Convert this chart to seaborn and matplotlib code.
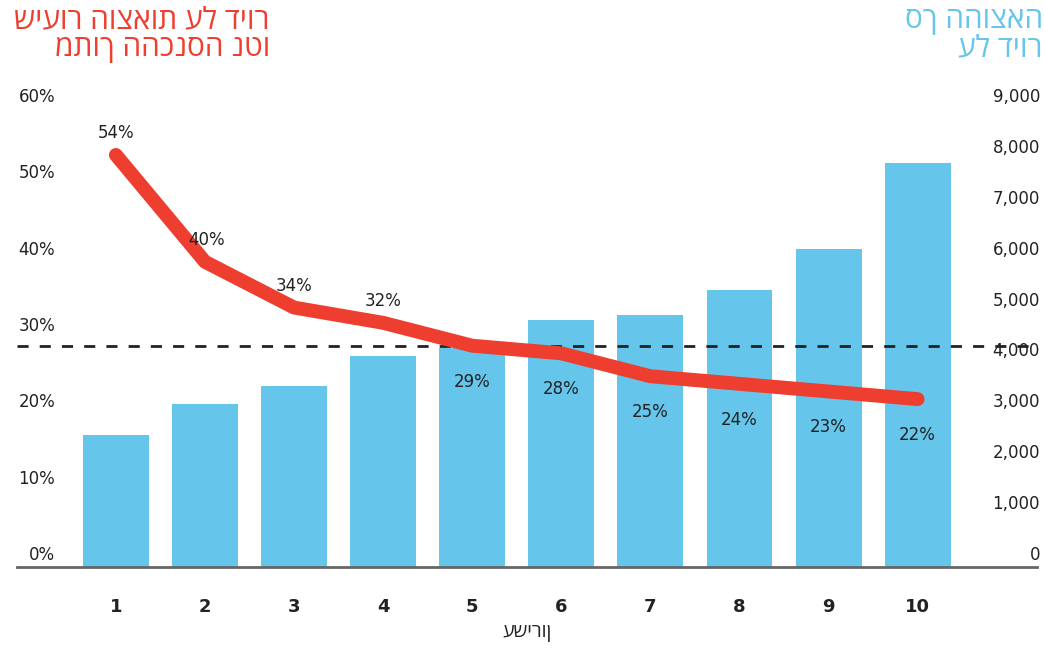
import numpy as np
import matplotlib
matplotlib.use("Agg")
import matplotlib.pyplot as plt
import matplotlib.transforms as mtransforms
import seaborn as sns

# data
deciles = ["1", "2", "3", "4", "5", "6", "7", "8", "9", "10"]
housing_spend = [2600, 3200, 3550, 4150, 4300, 4850, 4950, 5450, 6250, 7950]
housing_share = [54, 40, 34, 32, 29, 28, 25, 24, 23, 22]
average_share = 29
pct_ticks = [0, 10, 20, 30, 40, 50, 60]
spend_ticks = [0, 1000, 2000, 3000, 4000, 5000, 6000, 7000, 8000, 9000]

left_title = "שיעור הוצאות על דיור\nמתוך ההכנסה נטו"
right_title = "סך ההוצאה\nעל דיור"
x_title = "עשירון"

RED = "#EE3E2F"
BLUE = "#65C5EA"
DARK = "#222222"
HEB_FONT = ["Open Sans", "DejaVu Sans"]

sns.set_style("white")
plt.rcParams["font.family"] = ["DejaVu Sans"]

fig = plt.figure(figsize=(10.45, 6.48), dpi=100)
ax = fig.add_axes([17 / 1045, 81 / 648, 1020 / 1045, 467 / 648])
ax2 = ax.twinx()

# bars: spending (right scale)
sns.barplot(x=deciles, y=housing_spend, ax=ax, color=BLUE, width=0.74,
            saturation=1, edgecolor="none")
top_pct = 61.2
ax.set_ylim(0, top_pct * 150)
ax2.set_ylim(0, top_pct)

# line: share of income (left scale)
pos = np.arange(len(deciles))
ax2.axhline(average_share, color=DARK, lw=2, ls=(0, (4, 4)), zorder=2)
sns.lineplot(x=pos, y=housing_share, ax=ax2, color=RED, lw=10,
             solid_capstyle="round", solid_joinstyle="round", zorder=3)

for i, v in enumerate(housing_share):
    above = i < 4
    ax2.annotate(f"{v}%", (pos[i], v), textcoords="offset pixels",
                 xytext=(2 if i == 1 else 0, 22 if above else -36),
                 ha="center", va="center", fontsize=12, color=DARK, zorder=4)

ax.set_xlim(-1.11, 10.34)

# tick labels drawn inside the axes, sitting just above their values
for ax_ in (ax, ax2):
    ax_.set_yticks([])
    for s in ["top", "left", "right"]:
        ax_.spines[s].set_visible(False)
ax2.spines["bottom"].set_visible(False)
ax.spines["bottom"].set_color("#666666")
ax.spines["bottom"].set_linewidth(2)

tl = mtransforms.blended_transform_factory(ax.transAxes, ax2.transData)
for t in pct_ticks:
    ax2.text(38 / 1020, t + 0.4, f"{t}%", transform=tl, ha="right", va="bottom",
             fontsize=12, color=DARK)
tr = mtransforms.blended_transform_factory(ax.transAxes, ax.transData)
for t in spend_ticks:
    ax.text(1 + 3 / 1020, t + 60, f"{t:,}", transform=tr, ha="right", va="bottom",
            fontsize=12, color=DARK, clip_on=False)

ax.tick_params(axis="x", length=0, pad=22)
for lab in ax.get_xticklabels():
    lab.set_fontweight("bold")
    lab.set_fontsize(13)
    lab.set_color(DARK)
ax.set_xlabel(x_title, fontsize=14, color=DARK, labelpad=6, family=HEB_FONT)
ax.set_ylabel("")
ax2.set_ylabel("")

fig.text(270 / 1045, 1 - 6 / 648, left_title, ha="right", va="top",
         fontsize=21.5, color=RED, linespacing=0.95, family=HEB_FONT)
fig.text(1043 / 1045, 1 - 6 / 648, right_title, ha="right", va="top",
         fontsize=21.5, color=BLUE, linespacing=0.95, family=HEB_FONT)

fig.savefig("out.png", dpi=100)
